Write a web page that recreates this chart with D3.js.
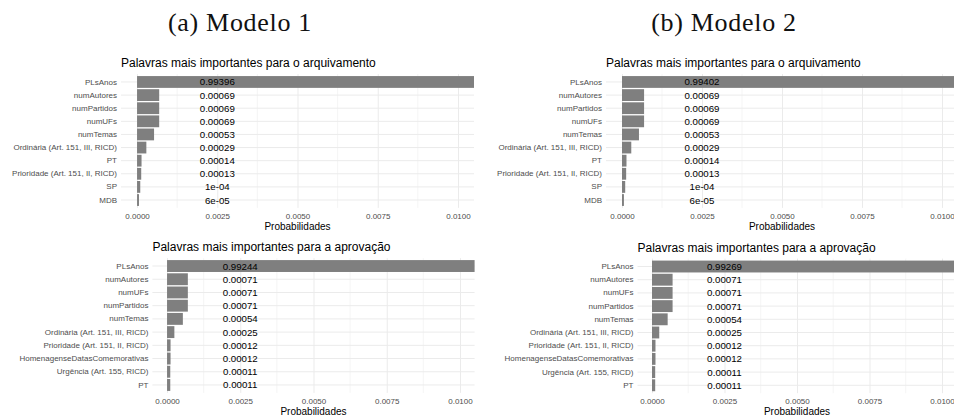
<!DOCTYPE html>
<html>
<head>
<meta charset="utf-8">
<script src="https://cdn.jsdelivr.net/npm/d3@7"></script>
<style>
  html, body { margin: 0; padding: 0; background: #fff; }
  svg { display: block; }
</style>
</head>
<body>
<svg id="fig" width="954" height="417"></svg>
<script>
// Subfigure captions and panel titles
const captions = ["(a) Modelo 1", "(b) Modelo 2"];
const panelTitles = [
  "Palavras mais importantes para o arquivamento",
  "Palavras mais importantes para a aprovação"
];
const xAxisTitle = "Probabilidades";

// Archiving ("arquivamento") importances, both models
const arqTerms = ["PLsAnos", "numAutores", "numPartidos", "numUFs", "numTemas",
  "Ordinária (Art. 151, III, RICD)", "PT", "Prioridade (Art. 151, II, RICD)", "SP", "MDB"];
const arqModel1 = [0.99396, 0.00069, 0.00069, 0.00069, 0.00053, 0.00029, 0.00014, 0.00013, 0.0001, 0.00006];
const arqModel2 = [0.99402, 0.00069, 0.00069, 0.00069, 0.00053, 0.00029, 0.00014, 0.00013, 0.0001, 0.00006];

// Approval ("aprovação") importances, both models
const aprTerms = ["PLsAnos", "numAutores", "numUFs", "numPartidos", "numTemas",
  "Ordinária (Art. 151, III, RICD)", "Prioridade (Art. 151, II, RICD)",
  "HomenagenseDatasComemorativas", "Urgência (Art. 155, RICD)", "PT"];
const aprModel1 = [0.99244, 0.00071, 0.00071, 0.00071, 0.00054, 0.00025, 0.00012, 0.00012, 0.00011, 0.00011];
const aprModel2 = [0.99269, 0.00071, 0.00071, 0.00071, 0.00054, 0.00025, 0.00012, 0.00012, 0.00011, 0.00011];

// Value axis: visible limits, labelled ticks, minor gridlines, label column
const xLimits = [0, 0.01];
const xTicks = [0, 0.0025, 0.005, 0.0075, 0.01];
const xMinorTicks = [0.00125, 0.00375, 0.00625, 0.00875];
const labelAt = 0.0025;

// R-style number printing: fixed unless scientific notation is shorter
function rFormat(v) {
  const fixed = String(Number(v.toFixed(5)));
  let sci = v.toExponential().replace(/e([+-])(\d)$/, "e$10$2");
  return sci.length < fixed.length ? sci : fixed;
}

const svg = d3.select("#fig");
const sans = "'Liberation Sans', Arial, sans-serif";

// Captions
const capX = [240, 724];
captions.forEach((c, i) => {
  svg.append("text")
    .attr("x", capX[i]).attr("y", 31)
    .attr("text-anchor", "middle")
    .attr("font-family", "'Liberation Serif', 'Times New Roman', serif")
    .attr("font-size", 26)
    .attr("letter-spacing", 0.7)
    .attr("fill", "#111")
    .text(c);
});

const panels = [
  { terms: arqTerms, values: arqModel1, title: panelTitles[0], left: 121, right: 474, top: 74.1, bottom: 207.9 },
  { terms: arqTerms, values: arqModel2, title: panelTitles[0], left: 606, right: 958, top: 74.1, bottom: 207.9 },
  { terms: aprTerms, values: aprModel1, title: panelTitles[1], left: 152.4, right: 474.6, top: 258.1, bottom: 392.9 },
  { terms: aprTerms, values: aprModel2, title: panelTitles[1], left: 637.5, right: 956.5, top: 258.6, bottom: 393.2 }
];

panels.forEach((p, idx) => {
  const w = p.right - p.left, h = p.bottom - p.top;
  const pad = (xLimits[1] - xLimits[0]) * 0.05;
  const x = d3.scaleLinear().domain([xLimits[0] - pad, xLimits[1] + pad]).range([0, w]);
  const y = d3.scaleBand().domain(p.terms).range([0, h]).paddingInner(0.1).paddingOuter(0.15);

  const g = svg.append("g").attr("transform", `translate(${p.left},${p.top})`);

  const clipId = "clip" + idx;
  g.append("clipPath").attr("id", clipId)
    .append("rect").attr("x", 0).attr("y", 0).attr("width", w).attr("height", h);

  // minor vertical gridlines
  g.append("g").selectAll("line").data(xMinorTicks).join("line")
    .attr("x1", d => x(d)).attr("x2", d => x(d))
    .attr("y1", 0).attr("y2", h)
    .attr("stroke", "#EFEFEF").attr("stroke-width", 0.6);

  // value axis with major gridlines
  const xa = g.append("g").attr("transform", `translate(0,${h})`)
    .call(d3.axisBottom(x).tickValues(xTicks).tickFormat(d3.format(".4f"))
      .tickSize(h).tickPadding(5.2));
  xa.select(".domain").remove();
  xa.selectAll(".tick line").attr("y1", 0).attr("y2", -h)
    .attr("stroke", "#EBEBEB").attr("stroke-width", 1);
  xa.selectAll(".tick text").attr("y", 5.2)
    .attr("font-family", sans).attr("font-size", 8).attr("fill", "#4D4D4D");

  // category axis with horizontal gridlines
  const ya = g.append("g")
    .call(d3.axisLeft(y).tickSize(-w).tickPadding(4));
  ya.select(".domain").remove();
  ya.selectAll(".tick line").attr("stroke", "#EBEBEB").attr("stroke-width", 1);
  ya.selectAll(".tick text")
    .attr("font-family", sans).attr("font-size", 8).attr("fill", "#4D4D4D");

  const rows = p.terms.map((t, i) => ({ term: t, value: p.values[i] }));

  // bars
  g.append("g").attr("clip-path", `url(#${clipId})`)
    .selectAll("rect").data(rows).join("rect")
    .attr("x", x(0))
    .attr("y", d => y(d.term))
    .attr("width", d => x(d.value) - x(0))
    .attr("height", y.bandwidth())
    .attr("fill", "#7F7F7F");

  // value labels
  g.append("g").selectAll("text").data(rows).join("text")
    .attr("x", x(labelAt))
    .attr("y", d => y(d.term) + y.bandwidth() / 2)
    .attr("dy", "0.36em")
    .attr("text-anchor", "middle")
    .attr("font-family", sans).attr("font-size", 9.7).attr("fill", "#000")
    .text(d => rFormat(d.value));

  // panel title
  g.append("text")
    .attr("x", 0).attr("y", -11).attr("dy", "0.35em")
    .attr("font-family", sans).attr("font-size", 12).attr("fill", "#000")
    .text(p.title);

  // axis title
  g.append("text")
    .attr("x", w / 2).attr("y", h + 18.5).attr("dy", "0.35em")
    .attr("text-anchor", "middle")
    .attr("font-family", sans).attr("font-size", 10).attr("fill", "#000")
    .text(xAxisTitle);
});
</script>
</body>
</html>
